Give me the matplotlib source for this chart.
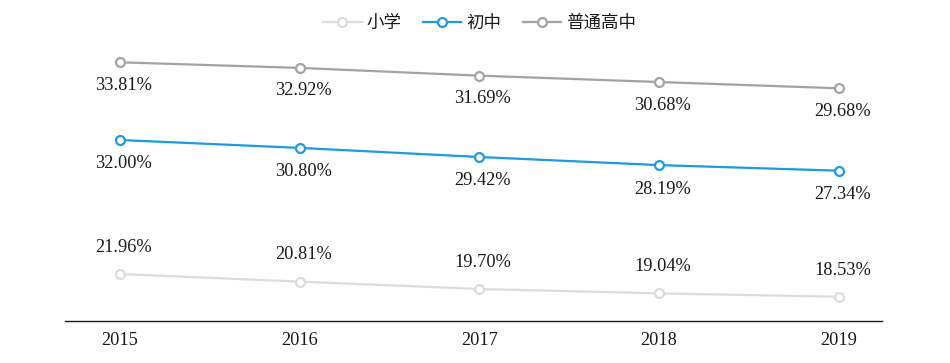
import matplotlib
matplotlib.use("Agg")
import matplotlib.pyplot as plt
from matplotlib.lines import Line2D

plt.rcParams['font.family'] = ['Liberation Serif', 'Noto Sans CJK SC', 'DejaVu Sans']

years = ['2015', '2016', '2017', '2018', '2019']
primary = [21.96, 20.81, 19.70, 19.04, 18.53]
junior = [32.00, 30.80, 29.42, 28.19, 27.34]
senior = [33.81, 32.92, 31.69, 30.68, 29.68]
names = ['小学', '初中', '普通高中']
colors = ['#dcdcdc', '#1a9be2', '#a3a3a3']

fig = plt.figure(figsize=(9.5, 3.63), dpi=100)
ax = fig.add_axes([0.0684, 0.1165, 0.8600, 0.8009])
ax2 = ax.twinx()
ax3 = ax.twinx()

x = list(range(len(years)))
series = [(ax, primary, (14.91, 58.82), 16.0),
          (ax2, junior, (4.58, 48.69), -20.5),
          (ax3, senior, (-7.21, 38.94), -19.8)]

fs = 13.2
for (a, vals, lim, off), c in zip(series, colors):
    a.plot(x, vals, color=c, lw=1.6, marker='o', ms=6.4, mfc='white',
           mec=c, mew=1.6, zorder=3, clip_on=False)
    a.set_ylim(*lim)
    for xi, v in zip(x, vals):
        a.annotate(f'{v:.2f}%', (xi, v), xytext=(2.5, off), textcoords='offset points',
                   ha='center', va='baseline', fontsize=fs, color='#1a1a1a')
    a.set_yticks([])
    for s in a.spines.values():
        s.set_visible(False)

ax.set_xlim(-0.306, 4.24)
ax.spines['bottom'].set_visible(True)
ax.spines['bottom'].set_color('#1a1a1a')
ax.spines['bottom'].set_linewidth(1.0)
ax.set_xticks(x)
ax.set_xticklabels(years, fontsize=fs, color='#1a1a1a')
ax.tick_params(axis='x', length=0, pad=8)
for a in (ax2, ax3):
    a.tick_params(axis='x', length=0, labelbottom=False)

handles = [Line2D([0], [0], color=c, lw=1.6, marker='o', ms=6.4, mfc='white', mec=c, mew=1.6)
           for c in colors]
fig.legend(handles, names, loc='center', bbox_to_anchor=(0.505, 0.935), ncol=3,
           frameon=False, fontsize=12.6, handlelength=2.2, handletextpad=0.3,
           columnspacing=1.2, labelcolor='#1a1a1a')

fig.savefig('out.png', dpi=100)
